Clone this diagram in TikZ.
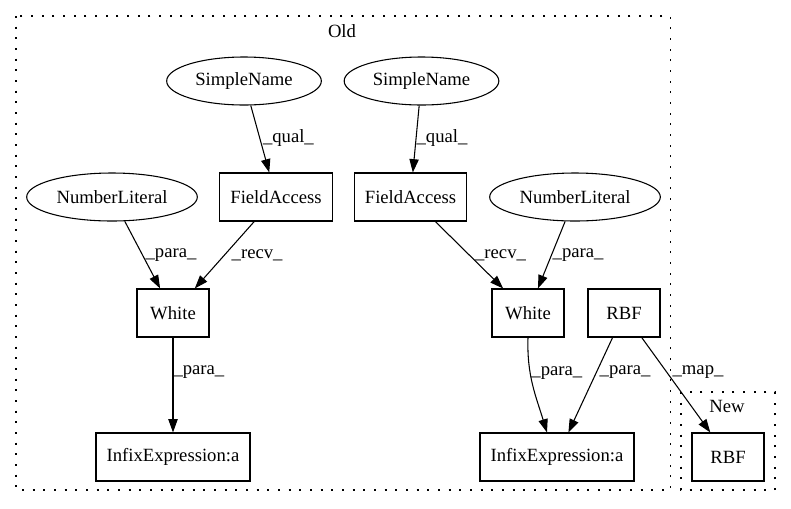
\documentclass[tikz,border=0pt]{standalone}
\usepackage{fontspec}
\setmainfont{Liberation Serif}
\usetikzlibrary{arrows.meta,shapes.geometric}
\tikzset{
    box/.style =    {rectangle,
                    fill=white,
                    draw=black,
                    text=black,
                    line width=0.8pt,
                    inner xsep=8pt,
                    minimum width=54pt,
                    minimum height=36pt},
    blob/.style =   {ellipse,
                    fill=white,
                    draw=black,
                    text=black,
                    line width=0.8pt,
                    inner sep=0pt,
                    minimum height=36pt},
    cluster/.style = {draw=black,
                    line width=1pt,
                    dash pattern=on 1.5pt off 6.5pt},
    lbl/.style =    {anchor=west,
                    inner sep=2pt,
                    text=black},
    -,
    >={Triangle[length=10pt,width=7pt]},
    every edge/.style={draw,line width=0.8pt}}
\begin{document}
\begin{tikzpicture}[x=0.75pt,y=-0.75pt,font=\fontsize{14}{16}\selectfont]
        \useasboundingbox (0,0) rectangle (791,508);
        % clusters
        \draw[cluster] (16,16) rectangle (670.5,490);
        \draw[cluster] (681,392) rectangle (775,490);
        \node (old) at (342,31) {Old};
        \node (new) at (727,406) {New};
        % nodes
        \node[blob,minimum width=116pt] (SN1) at (244,81)   {SimpleName};
        \node[blob,minimum width=116pt] (SN2) at (421.5,81) {SimpleName};
        \node[blob,minimum width=128pt] (NL1) at (112,197)  {NumberLiteral};
        \node[box]  (FA1) at (276,197)   {FieldAccess};
        \node[box]  (FA2) at (410.5,197) {FieldAccess};
        \node[blob,minimum width=128pt] (NL2) at (575,197)  {NumberLiteral};
        \node[box]  (W1) at (173,313) {White};
        \node[box]  (W2) at (528,313) {White};
        \node[box]  (R1) at (624,313) {RBF};
        \node[box,minimum width=112.5pt] (I1) at (173,457) {InfixExpression:a};
        \node[box,minimum width=112.5pt] (I2) at (557,457) {InfixExpression:a};
        \node[box]  (R2) at (728,457) {RBF};
        % edges
        \path [->]  (SN1) edge [] node [lbl,pos=.49] {\_qual\_} (FA1)
                    (SN2) edge [] node [lbl,pos=.49,inner sep=0pt] {\_qual\_} (FA2)
                    (NL1) edge [] node [lbl,pos=.5] {\_para\_} (W1)
                    (FA1) edge [] node [lbl,pos=.5,xshift=3pt] {\_recv\_} (W1)
                    (FA2) edge [] node [lbl,pos=.5,xshift=2pt] {\_recv\_} (W2)
                    (NL2) edge [] node [lbl,pos=.5,inner sep=0.5pt] {\_para\_} (W2)
                    (W1) edge [] node [lbl,pos=.365,inner sep=0pt] {\_para\_} (I1)
                    (W2.south) edge [out=-92,in=107] node [lbl,pos=.36,inner sep=0.5pt] {\_para\_} ([xshift=-7.5pt]I2.north)
                    (R1) edge [] node [lbl,pos=.365] {\_para\_} (I2)
                    (R1) edge [] node [lbl,pos=.365,xshift=2pt] {\_map\_} (R2);
\end{tikzpicture}
\end{document}
